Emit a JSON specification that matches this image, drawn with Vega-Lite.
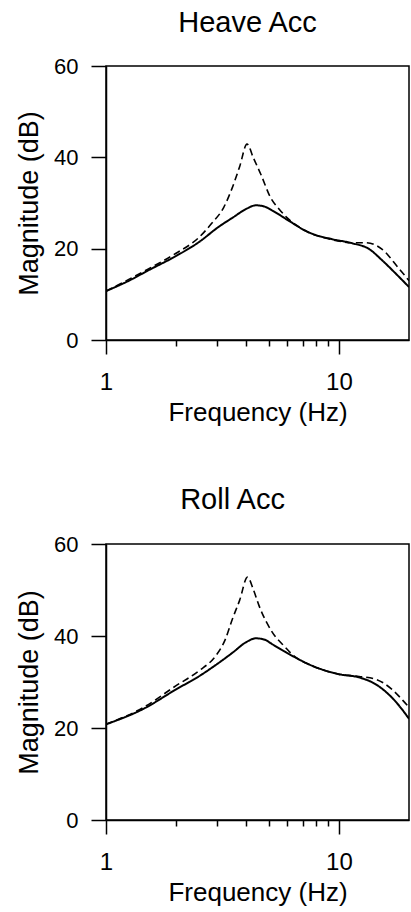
{
  "$schema": "https://vega.github.io/schema/vega-lite/v6.json",
  "padding": {"left": 14, "top": 8, "right": 0, "bottom": 0},
  "background": "white",
  "spacing": 59,
  "datasets": {
    "heave": [
      {"f": 1, "db": 10.7, "curve": "solid"},
      {"f": 1.29, "db": 13.3, "curve": "solid"},
      {"f": 1.5, "db": 15.1, "curve": "solid"},
      {"f": 2, "db": 18.4, "curve": "solid"},
      {"f": 2.5, "db": 21.4, "curve": "solid"},
      {"f": 3.05, "db": 24.8, "curve": "solid"},
      {"f": 3.5, "db": 26.8, "curve": "solid"},
      {"f": 4, "db": 28.7, "curve": "solid"},
      {"f": 4.4, "db": 29.5, "curve": "solid"},
      {"f": 4.8, "db": 29.2, "curve": "solid"},
      {"f": 5.2, "db": 28.3, "curve": "solid"},
      {"f": 6.1, "db": 26.1, "curve": "solid"},
      {"f": 7.4, "db": 23.6, "curve": "solid"},
      {"f": 9.3, "db": 22.1, "curve": "solid"},
      {"f": 11.4, "db": 21.2, "curve": "solid"},
      {"f": 13.5, "db": 19.9, "curve": "solid"},
      {"f": 15.3, "db": 17.5, "curve": "solid"},
      {"f": 17.5, "db": 14.6, "curve": "solid"},
      {"f": 20, "db": 11.6, "curve": "solid"},
      {"f": 1, "db": 10.7, "curve": "dashed"},
      {"f": 1.5, "db": 15.4, "curve": "dashed"},
      {"f": 2, "db": 19.0, "curve": "dashed"},
      {"f": 2.5, "db": 22.4, "curve": "dashed"},
      {"f": 2.85, "db": 25.6, "curve": "dashed"},
      {"f": 3.2, "db": 29.0, "curve": "dashed"},
      {"f": 3.47, "db": 33.1, "curve": "dashed"},
      {"f": 3.75, "db": 38.0, "curve": "dashed"},
      {"f": 4.03, "db": 42.9, "curve": "dashed"},
      {"f": 4.3, "db": 39.8, "curve": "dashed"},
      {"f": 4.62, "db": 36.3, "curve": "dashed"},
      {"f": 5.1, "db": 31.1, "curve": "dashed"},
      {"f": 5.53, "db": 28.7, "curve": "dashed"},
      {"f": 6.1, "db": 26.4, "curve": "dashed"},
      {"f": 7.4, "db": 23.6, "curve": "dashed"},
      {"f": 9.3, "db": 22.0, "curve": "dashed"},
      {"f": 11.4, "db": 21.3, "curve": "dashed"},
      {"f": 13, "db": 21.3, "curve": "dashed"},
      {"f": 15.3, "db": 19.9, "curve": "dashed"},
      {"f": 18, "db": 15.8, "curve": "dashed"},
      {"f": 20, "db": 13.0, "curve": "dashed"}
    ],
    "roll": [
      {"f": 1, "db": 20.8, "curve": "solid"},
      {"f": 1.44, "db": 24.1, "curve": "solid"},
      {"f": 2, "db": 28.4, "curve": "solid"},
      {"f": 2.5, "db": 31.2, "curve": "solid"},
      {"f": 2.96, "db": 33.7, "curve": "solid"},
      {"f": 3.5, "db": 36.4, "curve": "solid"},
      {"f": 3.98, "db": 38.6, "curve": "solid"},
      {"f": 4.4, "db": 39.5, "curve": "solid"},
      {"f": 4.8, "db": 39.2, "curve": "solid"},
      {"f": 5.18, "db": 38.2, "curve": "solid"},
      {"f": 6.3, "db": 35.7, "curve": "solid"},
      {"f": 7.7, "db": 33.5, "curve": "solid"},
      {"f": 10, "db": 31.7, "curve": "solid"},
      {"f": 12.2, "db": 31.0, "curve": "solid"},
      {"f": 14.4, "db": 29.5, "curve": "solid"},
      {"f": 16.9, "db": 26.6, "curve": "solid"},
      {"f": 18.9, "db": 23.7, "curve": "solid"},
      {"f": 20, "db": 22.0, "curve": "solid"},
      {"f": 1, "db": 20.8, "curve": "dashed"},
      {"f": 1.44, "db": 24.4, "curve": "dashed"},
      {"f": 2, "db": 29.2, "curve": "dashed"},
      {"f": 2.5, "db": 32.4, "curve": "dashed"},
      {"f": 2.96, "db": 35.7, "curve": "dashed"},
      {"f": 3.25, "db": 39.2, "curve": "dashed"},
      {"f": 3.49, "db": 43.7, "curve": "dashed"},
      {"f": 3.75, "db": 47.8, "curve": "dashed"},
      {"f": 4.05, "db": 52.8, "curve": "dashed"},
      {"f": 4.3, "db": 50.0, "curve": "dashed"},
      {"f": 4.54, "db": 46.6, "curve": "dashed"},
      {"f": 5.18, "db": 40.8, "curve": "dashed"},
      {"f": 5.9, "db": 37.5, "curve": "dashed"},
      {"f": 6.3, "db": 36.0, "curve": "dashed"},
      {"f": 7.7, "db": 33.5, "curve": "dashed"},
      {"f": 10, "db": 31.7, "curve": "dashed"},
      {"f": 12.2, "db": 31.2, "curve": "dashed"},
      {"f": 14.4, "db": 30.6, "curve": "dashed"},
      {"f": 16.9, "db": 28.4, "curve": "dashed"},
      {"f": 18.9, "db": 25.9, "curve": "dashed"},
      {"f": 20, "db": 24.5, "curve": "dashed"}
    ]
  },
  "vconcat": [
    {
      "width": 303,
      "height": 274,
      "title": {"text": "Heave Acc", "frame": "group", "dx": -10, "offset": 17},
      "data": {"name": "heave"},
      "mark": {"type": "line", "interpolate": "monotone", "color": "black", "clip": true},
      "encoding": {
        "x": {"field": "f", "type": "quantitative", "scale": {"type": "log", "domain": [1, 20], "nice": false},
          "axis": {"title": "Frequency (Hz)", "values": [1, 2, 3, 4, 5, 6, 7, 8, 9, 10],
            "labelExpr": "datum.value == 1 || datum.value == 10 ? format(datum.value, 'd') : ''",
            "tickSize": {"condition": {"test": "datum.value == 1 || datum.value == 10", "value": 14}, "value": 6}}},
        "y": {"field": "db", "type": "quantitative", "scale": {"domain": [0, 60], "nice": false},
          "axis": {"title": "Magnitude (dB)", "values": [0, 20, 40, 60]}},
        "strokeDash": {"field": "curve", "type": "nominal", "scale": {"domain": ["solid", "dashed"], "range": [[1, 0], [7, 4]]}, "legend": null},
        "strokeWidth": {"field": "curve", "type": "nominal", "scale": {"domain": ["solid", "dashed"], "range": [2, 1.6]}, "legend": null}
      }
    },
    {
      "width": 303,
      "height": 276,
      "title": {"text": "Roll Acc", "frame": "group", "dx": -25, "offset": 18},
      "data": {"name": "roll"},
      "mark": {"type": "line", "interpolate": "monotone", "color": "black", "clip": true},
      "encoding": {
        "x": {"field": "f", "type": "quantitative", "scale": {"type": "log", "domain": [1, 20], "nice": false},
          "axis": {"title": "Frequency (Hz)", "values": [1, 2, 3, 4, 5, 6, 7, 8, 9, 10],
            "labelExpr": "datum.value == 1 || datum.value == 10 ? format(datum.value, 'd') : ''",
            "tickSize": {"condition": {"test": "datum.value == 1 || datum.value == 10", "value": 14}, "value": 6}}},
        "y": {"field": "db", "type": "quantitative", "scale": {"domain": [0, 60], "nice": false},
          "axis": {"title": "Magnitude (dB)", "values": [0, 20, 40, 60]}},
        "strokeDash": {"field": "curve", "type": "nominal", "scale": {"domain": ["solid", "dashed"], "range": [[1, 0], [7, 4]]}, "legend": null},
        "strokeWidth": {"field": "curve", "type": "nominal", "scale": {"domain": ["solid", "dashed"], "range": [2, 1.6]}, "legend": null}
      }
    }
  ],
  "config": {
    "font": "Liberation Sans",
    "view": {"stroke": "black", "strokeWidth": 1.5},
    "title": {"fontSize": 29, "fontWeight": "normal", "color": "black", "font": "Liberation Sans"},
    "axis": {
      "grid": false,
      "domainColor": "black",
      "domainWidth": 1.5,
      "tickColor": "black",
      "tickWidth": 1.5,
      "labelColor": "black",
      "titleColor": "black",
      "titleFontWeight": "normal",
      "labelFont": "Liberation Sans",
      "titleFont": "Liberation Sans"
    },
    "axisX": {"labelFontSize": 24, "labelPadding": 16, "titleFontSize": 26, "titlePadding": 5, "labelFlush": false},
    "axisY": {"labelFontSize": 22, "labelPadding": 13, "tickSize": 15, "titleFontSize": 27, "titlePadding": 10}
  }
}
